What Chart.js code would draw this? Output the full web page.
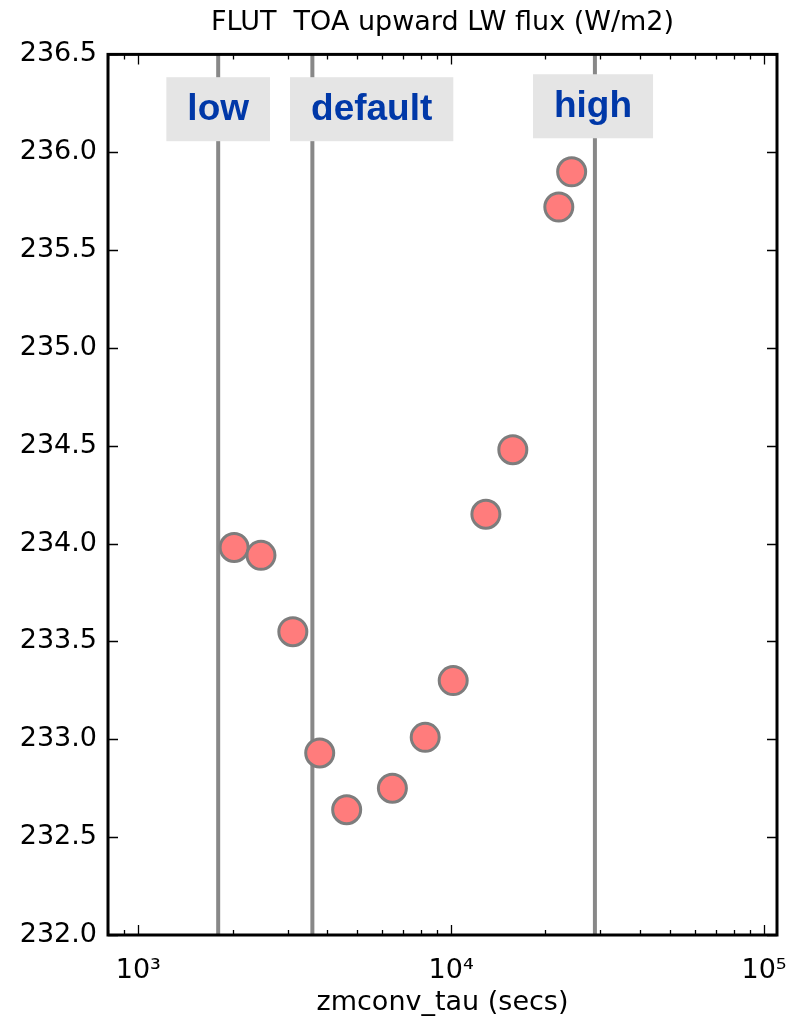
<!DOCTYPE html>
<html>
<head>
<meta charset="utf-8">
<script src="https://cdn.jsdelivr.net/npm/chart.js@4"></script>
<style>
  html, body { margin: 0; padding: 0; background: #fff; }
  #wrap { width: 794px; height: 1023px; }
</style>
</head>
<body>
<div id="wrap"><canvas id="fluxChart" width="794" height="1023"></canvas></div>
<script>
// data
var tauSecs = [2024, 2466, 3118, 3800, 4634, 6487, 8260, 10150, 12910, 15740, 22080, 24270]
var flutValues = [233.98, 233.94, 233.55, 232.93, 232.64, 232.75, 233.01, 233.30, 234.15, 234.48, 235.72, 235.90]

// reference settings (vertical lines) and their labels
var markerNames = ['low', 'default', 'high']
var markerTau = [1800, 3600, 28800]
var labelTau = [1800, 5570, 28400]
var labelFlux = [236.22, 236.22, 236.235]

var xMajorTicks = [1000, 10000, 100000]
var xTickLabels = ['10\u00b3', '10\u2074', '10\u2075']

var fontFam = "'DejaVu Sans', sans-serif"

// frame, inward ticks, vertical reference lines and label boxes
var framePlugin = {
  id: 'framePlugin',
  beforeDatasetsDraw: function (chart) {
    var ctx = chart.ctx
    var area = chart.chartArea
    var xs = chart.scales.x
    ctx.save()
    ctx.strokeStyle = '#888888'
    ctx.lineWidth = 4
    markerTau.forEach(function (t) {
      var px = xs.getPixelForValue(t)
      ctx.beginPath()
      ctx.moveTo(px, area.top)
      ctx.lineTo(px, area.bottom)
      ctx.stroke()
    })
    ctx.restore()
  },
  afterDatasetsDraw: function (chart) {
    var ctx = chart.ctx
    var area = chart.chartArea
    var xs = chart.scales.x
    var ys = chart.scales.y
    ctx.save()

    // label boxes
    ctx.font = "bold 37px 'Liberation Sans', Arial, sans-serif"
    ctx.textAlign = 'center'
    ctx.textBaseline = 'middle'
    markerNames.forEach(function (name, i) {
      var cx = xs.getPixelForValue(labelTau[i])
      var cy = ys.getPixelForValue(labelFlux[i])
      var w = ctx.measureText(name).width + 42
      ctx.fillStyle = '#e5e5e5'
      ctx.fillRect(cx - w / 2, cy - 32, w, 64)
      ctx.fillStyle = '#0038a8'
      ctx.fillText(name, cx, cy + 1)
    })

    // ticks
    ctx.strokeStyle = '#000'
    ctx.lineWidth = 1.3
    var decades = [100, 1000, 10000, 100000]
    decades.forEach(function (d) {
      for (var k = 1; k <= 9; k++) {
        var v = d * k
        if (v < xs.min || v > xs.max) continue
        var px = Math.round(xs.getPixelForValue(v)) + 0.5
        var len = k === 1 ? 10 : 5
        ctx.beginPath()
        ctx.moveTo(px, area.bottom)
        ctx.lineTo(px, area.bottom - len)
        ctx.moveTo(px, area.top)
        ctx.lineTo(px, area.top + len)
        ctx.stroke()
      }
    })
    ys.ticks.forEach(function (t) {
      var py = Math.round(ys.getPixelForValue(t.value)) + 0.5
      ctx.beginPath()
      ctx.moveTo(area.left, py)
      ctx.lineTo(area.left + 10, py)
      ctx.moveTo(area.right, py)
      ctx.lineTo(area.right - 10, py)
      ctx.stroke()
    })

    // frame
    ctx.lineWidth = 3
    ctx.strokeRect(area.left, area.top, area.right - area.left, area.bottom - area.top)
    ctx.restore()
  }
}

var points = tauSecs.map(function (t, i) {
  return { x: t, y: flutValues[i] }
})

var ctx = document.getElementById('fluxChart').getContext('2d')
var fluxChart = new Chart(ctx, {
  type: 'scatter',
  data: {
    datasets: [{
      label: 'FLUT',
      data: points,
      pointRadius: 14,
      pointHoverRadius: 14,
      pointBorderWidth: 3,
      backgroundColor: '#ff7c7c',
      borderColor: '#7d7d7d'
    }]
  },
  options: {
    responsive: false,
    animation: false,
    devicePixelRatio: 1,
    layout: { padding: { top: 0, right: 16, bottom: 0, left: 0 } },
    plugins: {
      legend: { display: false },
      tooltip: { enabled: false },
      title: {
        display: true,
        fullSize: false,
        text: 'FLUT  TOA upward LW flux (W/m2)',
        color: '#000',
        font: { family: fontFam, size: 27, weight: 'normal' },
        padding: { top: 7, bottom: 15 }
      }
    },
    scales: {
      x: {
        type: 'logarithmic',
        min: 800,
        max: 110000,
        grid: { display: false },
        border: { display: false },
        afterBuildTicks: function (scale) {
          scale.ticks = xMajorTicks.map(function (v) { return { value: v } })
        },
        afterFit: function (scale) {
          scale.height = 88
          scale.paddingLeft = 0
          scale.paddingRight = 0
        },
        ticks: {
          color: '#000',
          padding: 12,
          maxRotation: 0,
          font: { family: fontFam, size: 27 },
          callback: function (value) {
            var idx = xMajorTicks.indexOf(value)
            return idx >= 0 ? xTickLabels[idx] : ''
          }
        },
        title: {
          display: true,
          text: 'zmconv_tau (secs)',
          color: '#000',
          font: { family: fontFam, size: 27 },
          padding: { top: 0, bottom: 4 }
        }
      },
      y: {
        min: 232,
        max: 236.5,
        grid: { display: false },
        border: { display: false },
        afterFit: function (scale) { scale.width = 108 },
        ticks: {
          stepSize: 0.5,
          color: '#000',
          padding: 3,
          font: { family: fontFam, size: 27 },
          callback: function (value) { return value.toFixed(1) }
        }
      }
    }
  },
  plugins: [framePlugin]
})
</script>
</body>
</html>
